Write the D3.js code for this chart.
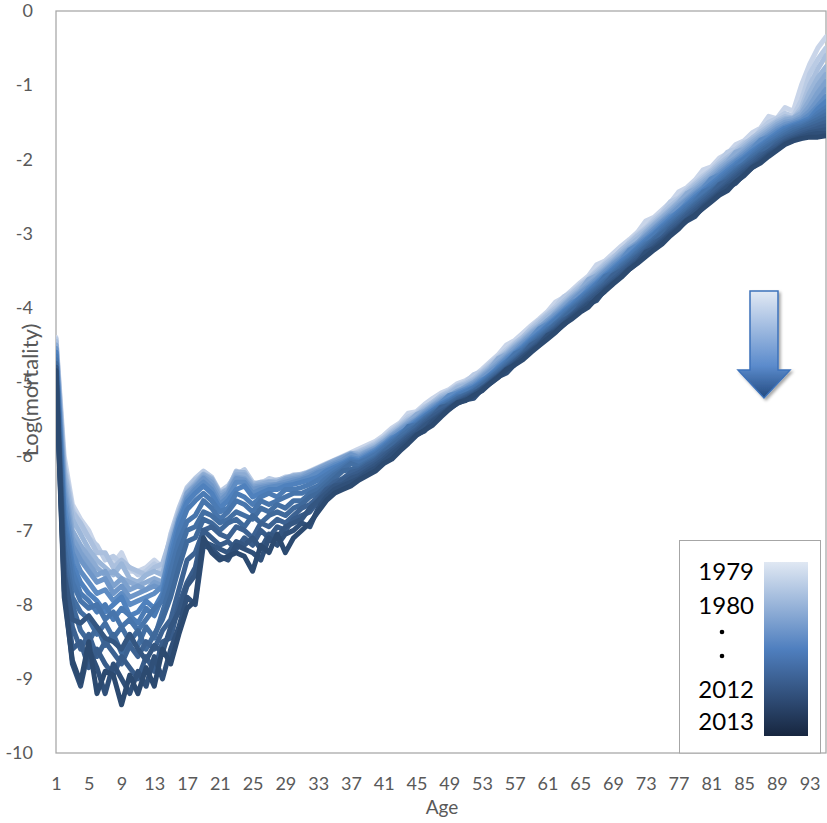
<!DOCTYPE html>
<html>
<head>
<meta charset="utf-8">
<script src="https://cdn.jsdelivr.net/npm/d3@7"></script>
<style>
body { margin: 0; background: #fff; }
#display { width: 827px; height: 823px; }
</style>
</head>
<body>
<div id="display"></div>
<script>
var years = [1979, 1981, 1983, 1985, 1987, 1989, 1991, 1993, 1995, 1997, 1999, 2001, 2003, 2005, 2007, 2009, 2011, 2013];

var y1979 = [-4.40,-6.00,-6.65,-6.85,-7.00,-7.25,-7.35,-7.45,-7.30,-7.55, -7.55,-7.50,-7.40,-7.50,-7.10,-6.75,-6.45,-6.35,-6.22,-6.30,
  -6.50,-6.42,-6.22,-6.20,-6.38,-6.35,-6.32,-6.35,-6.30,-6.25, -6.25,-6.20,-6.15,-6.10,-6.05,-6.00,-5.95,-5.90,-5.85,-5.80,
  -5.72,-5.62,-5.55,-5.42,-5.40,-5.30,-5.22,-5.15,-5.10,-5.02, -4.98,-4.92,-4.83,-4.73,-4.63,-4.50,-4.44,-4.34,-4.24,-4.15,
  -4.05,-3.92,-3.86,-3.76,-3.66,-3.57,-3.42,-3.37,-3.27,-3.17, -3.08,-2.98,-2.83,-2.78,-2.68,-2.58,-2.44,-2.38,-2.28,-2.14,
  -2.10,-1.98,-1.92,-1.80,-1.75,-1.64,-1.58,-1.42,-1.45,-1.30, -1.35,-1.00,-0.72,-0.50,-0.35];
var y1981 = [-4.42,-6.10,-6.70,-6.95,-7.10,-7.20,-7.40,-7.35,-7.45,-7.50, -7.60,-7.55,-7.45,-7.55,-7.05,-6.70,-6.42,-6.30,-6.20,-6.28,
  -6.48,-6.40,-6.25,-6.18,-6.35,-6.38,-6.30,-6.33,-6.28,-6.27, -6.24,-6.21,-6.17,-6.12,-6.06,-6.02,-5.97,-5.93,-5.88,-5.82,
  -5.75,-5.65,-5.57,-5.47,-5.42,-5.33,-5.28,-5.18,-5.12,-5.05, -5.00,-4.90,-4.86,-4.75,-4.66,-4.56,-4.47,-4.40,-4.27,-4.17,
  -4.08,-3.98,-3.85,-3.79,-3.69,-3.60,-3.50,-3.40,-3.31,-3.25, -3.11,-3.01,-2.92,-2.81,-2.72,-2.57,-2.52,-2.41,-2.32,-2.22,
  -2.14,-2.03,-1.90,-1.86,-1.77,-1.74,-1.60,-1.50,-1.45,-1.38, -1.42,-1.20,-0.85,-0.65,-0.50];
var y1983 = [-4.45,-6.15,-6.75,-6.90,-7.10,-7.30,-7.30,-7.50,-7.40,-7.50, -7.55,-7.60,-7.50,-7.45,-7.10,-6.75,-6.45,-6.32,-6.25,-6.30,
  -6.50,-6.45,-6.20,-6.25,-6.38,-6.35,-6.35,-6.32,-6.30,-6.28, -6.25,-6.22,-6.18,-6.13,-6.08,-6.03,-5.98,-5.94,-5.89,-5.84,
  -5.76,-5.67,-5.59,-5.50,-5.44,-5.35,-5.27,-5.19,-5.14,-5.06, -5.02,-4.96,-4.87,-4.78,-4.68,-4.59,-4.49,-4.39,-4.29,-4.20,
  -4.10,-4.01,-3.91,-3.81,-3.71,-3.62,-3.52,-3.42,-3.33,-3.22, -3.13,-3.03,-2.94,-2.84,-2.74,-2.63,-2.54,-2.44,-2.34,-2.25,
  -2.16,-2.06,-1.97,-1.89,-1.80,-1.71,-1.63,-1.55,-1.48,-1.42, -1.45,-1.30,-1.00,-0.78,-0.60];
var y1985 = [-4.50,-6.20,-6.85,-7.05,-7.25,-7.40,-7.50,-7.60,-7.45,-7.65, -7.70,-7.60,-7.55,-7.60,-7.15,-6.78,-6.48,-6.36,-6.24,-6.30,
  -6.50,-6.44,-6.22,-6.22,-6.38,-6.36,-6.34,-6.35,-6.30,-6.26, -6.25,-6.22,-6.18,-6.13,-6.08,-6.03,-5.99,-5.96,-5.91,-5.86,
  -5.78,-5.69,-5.61,-5.52,-5.46,-5.37,-5.29,-5.21,-5.16,-5.08, -5.04,-4.98,-4.89,-4.80,-4.70,-4.61,-4.51,-4.42,-4.32,-4.23,
  -4.13,-4.04,-3.94,-3.84,-3.74,-3.65,-3.55,-3.45,-3.36,-3.26, -3.16,-3.07,-2.97,-2.87,-2.77,-2.67,-2.57,-2.47,-2.37,-2.28,
  -2.19,-2.09,-2.00,-1.92,-1.83,-1.74,-1.66,-1.58,-1.50,-1.45, -1.44,-1.35,-1.10,-0.90,-0.75];
var y1987 = [-4.50,-6.30,-7.00,-7.20,-7.35,-7.50,-7.60,-7.55,-7.65,-7.70, -7.75,-7.70,-7.65,-7.70,-7.20,-6.80,-6.50,-6.38,-6.25,-6.32,
  -6.52,-6.45,-6.25,-6.25,-6.40,-6.38,-6.35,-6.35,-6.30,-6.28, -6.26,-6.21,-6.16,-6.11,-6.06,-6.01,-5.96,-5.98,-5.93,-5.88,
  -5.80,-5.71,-5.63,-5.54,-5.44,-5.39,-5.31,-5.23,-5.18,-5.15, -5.06,-5.00,-4.91,-4.82,-4.68,-4.63,-4.53,-4.44,-4.34,-4.25,
  -4.20,-4.06,-3.96,-3.86,-3.77,-3.62,-3.57,-3.48,-3.38,-3.28, -3.19,-3.13,-2.99,-2.89,-2.79,-2.69,-2.59,-2.46,-2.40,-2.31,
  -2.22,-2.12,-2.03,-1.90,-1.86,-1.77,-1.69,-1.61,-1.53,-1.47, -1.45,-1.38,-1.20,-1.00,-0.85];
var y1989 = [-4.55,-6.40,-7.10,-7.30,-7.45,-7.60,-7.55,-7.75,-7.65,-7.80, -7.75,-7.80,-7.70,-7.75,-7.25,-6.85,-6.50,-6.40,-6.28,-6.35,
  -6.55,-6.48,-6.28,-6.30,-6.42,-6.40,-6.38,-6.38,-6.32,-6.30, -6.28,-6.22,-6.18,-6.12,-6.08,-6.02,-5.98,-6.00,-5.94,-5.89,
  -5.81,-5.72,-5.64,-5.56,-5.49,-5.40,-5.32,-5.25,-5.19,-5.12, -5.07,-5.01,-4.93,-4.84,-4.74,-4.65,-4.55,-4.46,-4.36,-4.27,
  -4.17,-4.08,-3.98,-3.88,-3.79,-3.69,-3.60,-3.50,-3.40,-3.31, -3.21,-3.12,-3.02,-2.92,-2.82,-2.72,-2.62,-2.53,-2.43,-2.34,
  -2.25,-2.15,-2.06,-1.98,-1.89,-1.80,-1.72,-1.64,-1.56,-1.50, -1.48,-1.42,-1.28,-1.10,-0.95];
var y1991 = [-4.55,-6.50,-7.20,-7.40,-7.55,-7.70,-7.65,-7.85,-7.75,-7.90, -7.85,-7.80,-7.75,-7.80,-7.30,-6.90,-6.55,-6.42,-6.30,-6.40,
  -6.60,-6.50,-6.30,-6.32,-6.45,-6.42,-6.40,-6.38,-6.35,-6.32, -6.30,-6.25,-6.20,-6.15,-6.10,-6.05,-5.98,-6.02,-5.96,-5.91,
  -5.83,-5.74,-5.66,-5.58,-5.51,-5.42,-5.34,-5.27,-5.21,-5.14, -5.09,-5.03,-4.95,-4.86,-4.77,-4.67,-4.58,-4.48,-4.39,-4.29,
  -4.20,-4.10,-4.01,-3.91,-3.81,-3.72,-3.62,-3.52,-3.42,-3.33, -3.23,-3.14,-3.04,-2.94,-2.84,-2.75,-2.65,-2.55,-2.46,-2.37,
  -2.28,-2.18,-2.09,-2.01,-1.92,-1.83,-1.75,-1.67,-1.59,-1.53, -1.50,-1.45,-1.35,-1.20,-1.05];
var y1993 = [-4.60,-6.65,-7.30,-7.55,-7.70,-7.85,-7.80,-7.95,-7.85,-8.00, -7.95,-7.90,-7.85,-7.75,-7.25,-6.85,-6.58,-6.45,-6.35,-6.45,
  -6.65,-6.55,-6.35,-6.35,-6.50,-6.45,-6.42,-6.40,-6.38,-6.35, -6.32,-6.28,-6.22,-6.18,-6.12,-6.08,-6.02,-6.04,-5.98,-5.92,
  -5.84,-5.75,-5.72,-5.60,-5.52,-5.44,-5.36,-5.28,-5.18,-5.15, -5.10,-5.05,-4.97,-4.93,-4.79,-4.69,-4.60,-4.51,-4.41,-4.28,
  -4.22,-4.13,-4.03,-3.93,-3.88,-3.74,-3.65,-3.55,-3.45,-3.36, -3.22,-3.16,-3.07,-2.97,-2.87,-2.77,-2.72,-2.58,-2.48,-2.39,
  -2.26,-2.21,-2.12,-2.03,-1.95,-1.86,-1.74,-1.70,-1.62,-1.56, -1.52,-1.48,-1.40,-1.28,-1.15];
var y1995 = [-4.60,-6.80,-7.45,-7.70,-7.85,-7.95,-8.10,-8.00,-7.90,-8.15, -8.10,-7.95,-8.05,-7.85,-7.35,-6.90,-6.62,-6.50,-6.40,-6.50,
  -6.70,-6.60,-6.45,-6.40,-6.55,-6.50,-6.45,-6.45,-6.40,-6.38, -6.35,-6.32,-6.28,-6.20,-6.15,-6.10,-6.04,-6.06,-6.00,-5.94,
  -5.86,-5.77,-5.69,-5.62,-5.54,-5.46,-5.38,-5.30,-5.24,-5.17, -5.12,-5.07,-4.99,-4.90,-4.81,-4.72,-4.62,-4.53,-4.43,-4.34,
  -4.24,-4.15,-4.05,-3.96,-3.86,-3.77,-3.67,-3.57,-3.48,-3.38, -3.29,-3.19,-3.09,-3.00,-2.90,-2.80,-2.70,-2.61,-2.51,-2.42,
  -2.33,-2.24,-2.15,-2.06,-1.98,-1.89,-1.81,-1.73,-1.65,-1.58, -1.54,-1.50,-1.45,-1.32,-1.22];
var y1997 = [-4.65,-6.90,-7.55,-7.85,-7.95,-8.10,-8.00,-8.20,-8.05,-8.15, -8.25,-8.05,-8.15,-7.90,-7.45,-7.00,-6.72,-6.60,-6.50,-6.60,
  -6.75,-6.70,-6.50,-6.55,-6.65,-6.55,-6.50,-6.55,-6.45,-6.45, -6.42,-6.38,-6.32,-6.25,-6.18,-6.12,-6.06,-6.08,-6.02,-5.96,
  -5.88,-5.79,-5.71,-5.63,-5.56,-5.47,-5.39,-5.32,-5.26,-5.19, -5.14,-5.08,-5.01,-4.92,-4.83,-4.73,-4.64,-4.55,-4.45,-4.36,
  -4.26,-4.17,-4.07,-3.98,-3.88,-3.79,-3.69,-3.60,-3.50,-3.41, -3.31,-3.21,-3.12,-3.02,-2.92,-2.83,-2.73,-2.63,-2.54,-2.45,
  -2.36,-2.27,-2.18,-2.09,-2.00,-1.92,-1.83,-1.75,-1.68,-1.61, -1.56,-1.52,-1.48,-1.38,-1.30];
var y1999 = [-4.70,-7.00,-7.70,-7.95,-8.05,-8.00,-8.20,-8.10,-8.30,-8.20, -8.35,-8.20,-8.05,-7.95,-7.55,-7.15,-6.88,-6.80,-6.60,-6.70,
  -6.85,-6.75,-6.60,-6.65,-6.75,-6.60,-6.65,-6.60,-6.55,-6.50, -6.50,-6.45,-6.40,-6.30,-6.22,-6.15,-6.08,-6.09,-6.04,-5.98,
  -5.90,-5.81,-5.73,-5.60,-5.58,-5.49,-5.41,-5.33,-5.27,-5.20, -5.19,-5.10,-5.02,-4.94,-4.85,-4.75,-4.62,-4.57,-4.47,-4.38,
  -4.29,-4.23,-4.10,-4.00,-3.91,-3.81,-3.72,-3.58,-3.53,-3.43, -3.34,-3.24,-3.14,-3.09,-2.95,-2.85,-2.76,-2.66,-2.57,-2.44,
  -2.39,-2.30,-2.21,-2.12,-2.07,-1.95,-1.86,-1.78,-1.71,-1.64, -1.58,-1.55,-1.50,-1.42,-1.35];
var y2001 = [-4.75,-7.20,-7.90,-8.10,-8.20,-8.40,-8.25,-8.45,-8.30,-8.50, -8.55,-8.30,-8.45,-8.10,-7.75,-7.30,-7.00,-6.95,-6.75,-6.80,
  -6.90,-6.85,-6.75,-6.80,-6.85,-6.70,-6.75,-6.65,-6.70,-6.60, -6.60,-6.50,-6.45,-6.35,-6.25,-6.18,-6.10,-6.14,-6.08,-6.02,
  -5.93,-5.84,-5.74,-5.66,-5.59,-5.50,-5.42,-5.35,-5.29,-5.22, -5.17,-5.12,-5.04,-4.95,-4.86,-4.77,-4.68,-4.59,-4.49,-4.40,
  -4.31,-4.21,-4.12,-4.02,-3.93,-3.83,-3.74,-3.64,-3.55,-3.45, -3.36,-3.26,-3.17,-3.07,-2.98,-2.88,-2.79,-2.69,-2.60,-2.51,
  -2.42,-2.33,-2.24,-2.15,-2.06,-1.97,-1.89,-1.81,-1.74,-1.67, -1.61,-1.57,-1.52,-1.46,-1.40];
var y2003 = [-4.75,-7.40,-8.00,-8.35,-8.50,-8.30,-8.55,-8.40,-8.65,-8.50, -8.35,-8.60,-8.40,-8.20,-7.90,-7.50,-7.15,-7.10,-6.85,-6.90,
  -7.00,-6.90,-6.85,-6.95,-6.80,-6.90,-6.80,-6.75,-6.80,-6.70, -6.65,-6.55,-6.50,-6.40,-6.30,-6.20,-6.18,-6.17,-6.10,-6.04,
  -5.95,-5.86,-5.78,-5.70,-5.60,-5.52,-5.44,-5.36,-5.30,-5.23, -5.18,-5.13,-5.05,-4.97,-4.88,-4.79,-4.70,-4.61,-4.51,-4.42,
  -4.33,-4.23,-4.14,-4.04,-3.95,-3.86,-3.76,-3.67,-3.57,-3.48, -3.38,-3.29,-3.19,-3.10,-3.00,-2.91,-2.81,-2.72,-2.62,-2.53,
  -2.44,-2.35,-2.26,-2.17,-2.09,-2.00,-1.92,-1.84,-1.76,-1.70, -1.64,-1.60,-1.55,-1.50,-1.45];
var y2005 = [-4.80,-7.50,-8.30,-8.60,-8.40,-8.70,-8.50,-8.65,-8.80,-8.55, -8.70,-8.50,-8.60,-8.35,-8.20,-7.80,-7.40,-7.30,-7.00,-6.95,
  -7.05,-7.10,-6.95,-7.00,-7.10,-6.90,-6.95,-6.85,-6.90,-6.80, -6.70,-6.65,-6.55,-6.45,-6.35,-6.30,-6.22,-6.19,-6.12,-6.06,
  -5.97,-5.92,-5.81,-5.72,-5.64,-5.54,-5.46,-5.34,-5.32,-5.25, -5.20,-5.14,-5.11,-4.98,-4.90,-4.81,-4.72,-4.63,-4.50,-4.44,
  -4.35,-4.26,-4.16,-4.11,-3.97,-3.88,-3.79,-3.69,-3.56,-3.50, -3.41,-3.31,-3.22,-3.12,-3.07,-2.93,-2.84,-2.74,-2.65,-2.56,
  -2.47,-2.34,-2.29,-2.20,-2.11,-2.03,-1.94,-1.90,-1.79,-1.72, -1.67,-1.62,-1.58,-1.54,-1.50];
var y2007 = [-4.85,-7.70,-8.60,-8.50,-8.85,-8.60,-8.80,-8.95,-8.70,-8.85, -9.00,-8.70,-8.90,-8.50,-8.45,-8.00,-7.70,-7.50,-7.00,-7.10,
  -7.20,-7.15,-7.25,-7.10,-7.20,-7.00,-7.10,-6.95,-7.00,-6.85, -6.80,-6.75,-6.60,-6.45,-6.40,-6.32,-6.27,-6.22,-6.15,-6.09,
  -6.00,-5.91,-5.83,-5.74,-5.66,-5.57,-5.47,-5.40,-5.34,-5.27, -5.21,-5.16,-5.08,-5.00,-4.91,-4.82,-4.73,-4.64,-4.55,-4.46,
  -4.37,-4.28,-4.18,-4.09,-4.00,-3.90,-3.81,-3.72,-3.62,-3.53, -3.43,-3.34,-3.24,-3.15,-3.06,-2.96,-2.87,-2.77,-2.68,-2.59,
  -2.50,-2.41,-2.32,-2.23,-2.14,-2.06,-1.97,-1.89,-1.82,-1.75, -1.70,-1.65,-1.62,-1.58,-1.55];
var y2009 = [-4.80,-7.60,-8.20,-8.25,-8.15,-8.30,-8.45,-8.50,-8.60,-8.40, -8.60,-8.75,-8.55,-8.65,-8.30,-8.10,-7.75,-7.60,-7.15,-7.20,
  -7.25,-7.30,-7.15,-7.20,-7.10,-7.25,-7.05,-7.10,-6.95,-6.90, -6.85,-6.70,-6.60,-6.50,-6.40,-6.38,-6.30,-6.26,-6.19,-6.12,
  -6.04,-5.94,-5.86,-5.77,-5.69,-5.59,-5.51,-5.43,-5.35,-5.28, -5.23,-5.17,-5.09,-5.01,-4.92,-4.83,-4.75,-4.66,-4.57,-4.48,
  -4.39,-4.30,-4.21,-4.11,-4.02,-3.93,-3.84,-3.74,-3.65,-3.56, -3.46,-3.37,-3.27,-3.18,-3.09,-2.99,-2.90,-2.81,-2.71,-2.62,
  -2.53,-2.44,-2.35,-2.26,-2.17,-2.09,-2.00,-1.92,-1.85,-1.77, -1.72,-1.68,-1.64,-1.62,-1.60];
var y2011 = [-4.85,-7.80,-8.80,-9.10,-8.60,-8.85,-9.20,-8.80,-9.00,-9.20, -8.90,-9.10,-8.70,-9.00,-8.60,-8.30,-7.90,-8.00,-7.20,-7.25,
  -7.35,-7.40,-7.20,-7.25,-7.30,-7.40,-7.10,-7.20,-7.05,-7.00, -6.90,-6.95,-6.70,-6.55,-6.45,-6.40,-6.35,-6.30,-6.22,-6.16,
  -6.07,-5.98,-5.89,-5.80,-5.71,-5.66,-5.53,-5.45,-5.36,-5.29, -5.24,-5.22,-5.10,-5.02,-4.93,-4.88,-4.76,-4.67,-4.58,-4.50,
  -4.37,-4.32,-4.23,-4.13,-4.04,-3.95,-3.90,-3.76,-3.67,-3.58, -3.48,-3.39,-3.25,-3.20,-3.11,-3.01,-2.92,-2.83,-2.77,-2.64,
  -2.55,-2.46,-2.37,-2.32,-2.20,-2.11,-2.03,-1.94,-1.87,-1.79, -1.74,-1.70,-1.67,-1.65,-1.65];
var y2013 = [-4.85,-7.90,-8.75,-9.05,-8.50,-9.20,-8.90,-8.95,-9.35,-8.95, -9.20,-8.85,-9.10,-8.60,-8.80,-8.40,-8.05,-7.95,-7.10,-7.30,
  -7.40,-7.35,-7.30,-7.35,-7.55,-7.20,-7.30,-7.05,-7.30,-7.10, -7.00,-6.90,-6.75,-6.60,-6.50,-6.45,-6.40,-6.32,-6.26,-6.20,
  -6.10,-6.04,-5.93,-5.83,-5.72,-5.65,-5.58,-5.47,-5.37,-5.28, -5.25,-5.18,-5.12,-5.02,-4.94,-4.83,-4.77,-4.70,-4.60,-4.51,
  -4.42,-4.33,-4.22,-4.15,-4.06,-3.99,-3.87,-3.78,-3.68,-3.59, -3.48,-3.40,-3.31,-3.22,-3.14,-3.03,-2.94,-2.82,-2.75,-2.66,
  -2.57,-2.48,-2.42,-2.30,-2.22,-2.11,-2.05,-1.96,-1.88,-1.80, -1.75,-1.72,-1.70,-1.70,-1.68];

var series = [y1979, y1981, y1983, y1985, y1987, y1989, y1991, y1993, y1995,
  y1997, y1999, y2001, y2003, y2005, y2007, y2009, y2011, y2013];

var ages = d3.range(1, 96);
var xTicks = [1, 5, 9, 13, 17, 21, 25, 29, 33, 37, 41, 45, 49, 53, 57, 61, 65, 69, 73, 77, 81, 85, 89, 93];
var yTicks = [0, -1, -2, -3, -4, -5, -6, -7, -8, -9, -10];
var legendLabels = ["1979", "1980", "2012", "2013"];

var width = 827, height = 823;
var margin = {left: 56, right: 1, top: 11, bottom: 70};
var font = "Lato, 'Open Sans', sans-serif";

var x = d3.scaleLinear()
    .domain([1, 95])
    .range([margin.left, width - margin.right]);

var y = d3.scaleLinear()
    .domain([-10, 0])
    .range([height - margin.bottom, margin.top]);

var color = d3.scaleLinear()
    .domain([1979, 1995, 2013])
    .range(["#c9d5e9", "#4f81bd", "#2c4a70"]);

var svg = d3.select("#display")
    .append("svg")
    .attr("width", width)
    .attr("height", height);

var defs = svg.append("defs");

defs.append("clipPath")
    .attr("id", "plot")
  .append("rect")
    .attr("x", x(1))
    .attr("y", y(0))
    .attr("width", x(95) - x(1))
    .attr("height", y(-10) - y(0));

var lg = defs.append("linearGradient")
    .attr("id", "legendGrad")
    .attr("x1", 0).attr("y1", 0).attr("x2", 0).attr("y2", 1);
lg.append("stop").attr("offset", "0%").attr("stop-color", "#e0e8f3");
lg.append("stop").attr("offset", "50%").attr("stop-color", "#4f7fbf");
lg.append("stop").attr("offset", "100%").attr("stop-color", "#17263f");

var ag = defs.append("linearGradient")
    .attr("id", "arrowGrad")
    .attr("x1", 0).attr("y1", 0).attr("x2", 0).attr("y2", 1);
ag.append("stop").attr("offset", "0%").attr("stop-color", "#e2e9f4");
ag.append("stop").attr("offset", "70%").attr("stop-color", "#5b8bcc");
ag.append("stop").attr("offset", "100%").attr("stop-color", "#234a80");

var shadow = defs.append("filter")
    .attr("id", "shadow")
    .attr("x", "-30%").attr("y", "-30%").attr("width", "160%").attr("height", "160%");
shadow.append("feDropShadow")
    .attr("dx", 2).attr("dy", 2).attr("stdDeviation", 1.5)
    .attr("flood-color", "#000").attr("flood-opacity", 0.35);

// plot frame
svg.append("rect")
    .attr("x", x(1))
    .attr("y", y(0))
    .attr("width", x(95) - x(1))
    .attr("height", y(-10) - y(0))
    .attr("fill", "none")
    .attr("stroke", "#a6a6a6")
    .attr("stroke-width", 1.25);

var line = d3.line()
    .x((d, i) => x(ages[i]))
    .y(d => y(d));

svg.append("g")
    .attr("clip-path", "url(#plot)")
  .selectAll("path")
  .data(series)
  .join("path")
    .attr("d", d => line(d))
    .attr("fill", "none")
    .attr("stroke", (d, i) => color(years[i]))
    .attr("stroke-width", 5)
    .attr("stroke-linejoin", "round")
    .attr("stroke-linecap", "round");

// axes
var yAxis = svg.append("g")
    .attr("transform", "translate(" + x(1) + ",0)")
    .call(d3.axisLeft(y).tickValues(yTicks).tickFormat(d => String(d)).tickSize(0).tickPadding(23));
yAxis.select(".domain").remove();
yAxis.selectAll("text")
    .style("font", "18px " + font)
    .attr("fill", "#595959");

var xAxis = svg.append("g")
    .attr("transform", "translate(0," + y(-10) + ")")
    .call(d3.axisBottom(x).tickValues(xTicks).tickSize(0).tickPadding(24));
xAxis.select(".domain").remove();
xAxis.selectAll("text")
    .style("font", "18px " + font)
    .attr("fill", "#595959");

svg.append("text")
    .attr("x", 442)
    .attr("y", 814)
    .attr("text-anchor", "middle")
    .style("font", "19px " + font)
    .attr("fill", "#595959")
    .text("Age");

svg.append("text")
    .attr("transform", "translate(38,390) rotate(-90)")
    .attr("text-anchor", "middle")
    .style("font", "22px " + font)
    .attr("fill", "#595959")
    .text("Log(mortality)");

// arrow
svg.append("path")
    .attr("d", "M750,291 L778,291 L778,370 L790,370 L764,398 L738,370 L750,370 Z")
    .attr("fill", "url(#arrowGrad)")
    .attr("stroke", "#3d72ba")
    .attr("stroke-width", 1.5)
    .attr("stroke-linejoin", "miter")
    .attr("filter", "url(#shadow)");

// legend
var legend = svg.append("g");
legend.append("rect")
    .attr("x", 679.5).attr("y", 540.5)
    .attr("width", 141).attr("height", y(-10) - 540.5)
    .attr("fill", "#fff")
    .attr("stroke", "#a6a6a6")
    .attr("stroke-width", 1);
legend.append("rect")
    .attr("x", 764).attr("y", 562)
    .attr("width", 44).attr("height", 174)
    .attr("fill", "url(#legendGrad)");

var labelY = [580, 614, 698, 730];
legend.selectAll("text")
  .data(legendLabels)
  .join("text")
    .attr("x", 754)
    .attr("y", (d, i) => labelY[i])
    .attr("text-anchor", "end")
    .style("font", "24px " + font)
    .attr("fill", "#000")
    .text(d => d);

legend.selectAll("circle")
  .data([632, 656])
  .join("circle")
    .attr("cx", 722)
    .attr("cy", d => d)
    .attr("r", 2.3)
    .attr("fill", "#000");
</script>
</body>
</html>
